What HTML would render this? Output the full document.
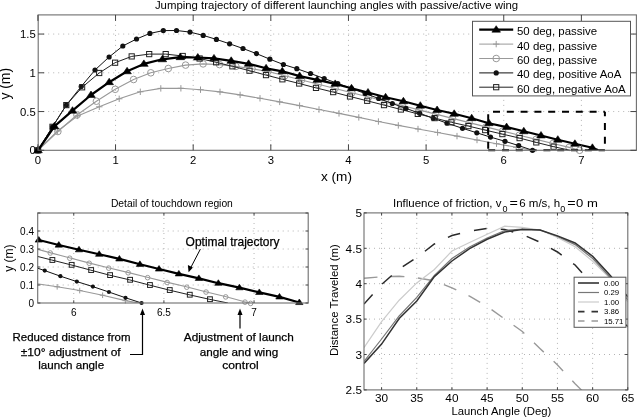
<!DOCTYPE html>
<html><head><meta charset="utf-8"><style>
html,body{margin:0;padding:0;background:#fff;}
svg{display:block;font-family:'Liberation Sans', sans-serif;will-change:transform;}
text{fill:#000;}
</style></head><body>
<svg width="637" height="417" viewBox="0 0 637 417">
<rect width="637" height="417" fill="#fff"/>
<line x1="115.54" y1="14.9" x2="115.54" y2="150.3" stroke="#b4b4b4" stroke-width="1" stroke-dasharray="1 4"/>
<line x1="193.18" y1="14.9" x2="193.18" y2="150.3" stroke="#b4b4b4" stroke-width="1" stroke-dasharray="1 4"/>
<line x1="270.82" y1="14.9" x2="270.82" y2="150.3" stroke="#b4b4b4" stroke-width="1" stroke-dasharray="1 4"/>
<line x1="348.46" y1="14.9" x2="348.46" y2="150.3" stroke="#b4b4b4" stroke-width="1" stroke-dasharray="1 4"/>
<line x1="426.1" y1="14.9" x2="426.1" y2="150.3" stroke="#b4b4b4" stroke-width="1" stroke-dasharray="1 4"/>
<line x1="503.74" y1="14.9" x2="503.74" y2="150.3" stroke="#b4b4b4" stroke-width="1" stroke-dasharray="1 4"/>
<line x1="581.38" y1="14.9" x2="581.38" y2="150.3" stroke="#b4b4b4" stroke-width="1" stroke-dasharray="1 4"/>
<line x1="38.2" y1="111.55" x2="636.4" y2="111.55" stroke="#b4b4b4" stroke-width="1" stroke-dasharray="1 4"/>
<line x1="38.2" y1="72.8" x2="636.4" y2="72.8" stroke="#b4b4b4" stroke-width="1" stroke-dasharray="1 4"/>
<line x1="38.2" y1="34.05" x2="636.4" y2="34.05" stroke="#b4b4b4" stroke-width="1" stroke-dasharray="1 4"/>
<clipPath id="ctop"><rect x="38.2" y="14.9" width="598.2" height="135.4"/></clipPath>
<polyline clip-path="url(#ctop)" points="38,150.3 57.6,131 77.7,115.9 99.3,106.8 119.2,98.8 140.3,91.8 160.8,88.4 180.9,88.3 200.5,89.7 220,91.9 240.1,94.9 260,98.3 279.7,101.9 299.6,105.6 319,109.5 339,113.4 358.8,117.4 378.4,121.5 398.3,125.4 418,129 437.6,132.5 457,136.1 477,140 496.5,143.7 516.2,147.3 531.8,150.3" fill="none" stroke="#999" stroke-width="1.1" stroke-linejoin="round"/>
<path d="M34.8,150.3h6.4M38,147.1v6.4" stroke="#999" stroke-width="1"/><path d="M54.4,131h6.4M57.6,127.8v6.4" stroke="#999" stroke-width="1"/><path d="M74.5,115.9h6.4M77.7,112.7v6.4" stroke="#999" stroke-width="1"/><path d="M96.1,106.8h6.4M99.3,103.6v6.4" stroke="#999" stroke-width="1"/><path d="M116,98.8h6.4M119.2,95.6v6.4" stroke="#999" stroke-width="1"/><path d="M137.1,91.8h6.4M140.3,88.6v6.4" stroke="#999" stroke-width="1"/><path d="M157.6,88.4h6.4M160.8,85.2v6.4" stroke="#999" stroke-width="1"/><path d="M177.7,88.3h6.4M180.9,85.1v6.4" stroke="#999" stroke-width="1"/><path d="M197.3,89.7h6.4M200.5,86.5v6.4" stroke="#999" stroke-width="1"/><path d="M216.8,91.9h6.4M220,88.7v6.4" stroke="#999" stroke-width="1"/><path d="M236.9,94.9h6.4M240.1,91.7v6.4" stroke="#999" stroke-width="1"/><path d="M256.8,98.3h6.4M260,95.1v6.4" stroke="#999" stroke-width="1"/><path d="M276.5,101.9h6.4M279.7,98.7v6.4" stroke="#999" stroke-width="1"/><path d="M296.4,105.6h6.4M299.6,102.4v6.4" stroke="#999" stroke-width="1"/><path d="M315.8,109.5h6.4M319,106.3v6.4" stroke="#999" stroke-width="1"/><path d="M335.8,113.4h6.4M339,110.2v6.4" stroke="#999" stroke-width="1"/><path d="M355.6,117.4h6.4M358.8,114.2v6.4" stroke="#999" stroke-width="1"/><path d="M375.2,121.5h6.4M378.4,118.3v6.4" stroke="#999" stroke-width="1"/><path d="M395.1,125.4h6.4M398.3,122.2v6.4" stroke="#999" stroke-width="1"/><path d="M414.8,129h6.4M418,125.8v6.4" stroke="#999" stroke-width="1"/><path d="M434.4,132.5h6.4M437.6,129.3v6.4" stroke="#999" stroke-width="1"/><path d="M453.8,136.1h6.4M457,132.9v6.4" stroke="#999" stroke-width="1"/><path d="M473.8,140h6.4M477,136.8v6.4" stroke="#999" stroke-width="1"/><path d="M493.3,143.7h6.4M496.5,140.5v6.4" stroke="#999" stroke-width="1"/><path d="M513,147.3h6.4M516.2,144.1v6.4" stroke="#999" stroke-width="1"/>
<polyline clip-path="url(#ctop)" points="38,150.3 57.9,131.5 76.9,115 96.4,101.2 115.2,89.3 133.6,79.5 150.8,72.8 168.3,68.5 185.6,65.1 203.1,63.9 219.5,64.6 235.9,66.4 252,68.8 268,71.5 284.77,75.76 301.54,80.02 318.31,84.28 335.08,88.55 351.85,92.81 368.62,97.07 385.38,101.33 402.15,105.59 418.92,109.85 435.69,114.12 452.46,118.38 469.23,122.64 486,126.9 502.6,131.1 519.3,135.2 536.1,139.4 552.9,143.5 569.1,147.4 579.6,150.3" fill="none" stroke="#999" stroke-width="1.1" stroke-linejoin="round"/>
<circle cx="38" cy="150.3" r="3.3" fill="none" stroke="#999" stroke-width="1"/><circle cx="57.9" cy="131.5" r="3.3" fill="none" stroke="#999" stroke-width="1"/><circle cx="76.9" cy="115" r="3.3" fill="none" stroke="#999" stroke-width="1"/><circle cx="96.4" cy="101.2" r="3.3" fill="none" stroke="#999" stroke-width="1"/><circle cx="115.2" cy="89.3" r="3.3" fill="none" stroke="#999" stroke-width="1"/><circle cx="133.6" cy="79.5" r="3.3" fill="none" stroke="#999" stroke-width="1"/><circle cx="150.8" cy="72.8" r="3.3" fill="none" stroke="#999" stroke-width="1"/><circle cx="168.3" cy="68.5" r="3.3" fill="none" stroke="#999" stroke-width="1"/><circle cx="185.6" cy="65.1" r="3.3" fill="none" stroke="#999" stroke-width="1"/><circle cx="203.1" cy="63.9" r="3.3" fill="none" stroke="#999" stroke-width="1"/><circle cx="219.5" cy="64.6" r="3.3" fill="none" stroke="#999" stroke-width="1"/><circle cx="235.9" cy="66.4" r="3.3" fill="none" stroke="#999" stroke-width="1"/><circle cx="252" cy="68.8" r="3.3" fill="none" stroke="#999" stroke-width="1"/><circle cx="268" cy="71.5" r="3.3" fill="none" stroke="#999" stroke-width="1"/><circle cx="284.77" cy="75.76" r="3.3" fill="none" stroke="#999" stroke-width="1"/><circle cx="301.54" cy="80.02" r="3.3" fill="none" stroke="#999" stroke-width="1"/><circle cx="318.31" cy="84.28" r="3.3" fill="none" stroke="#999" stroke-width="1"/><circle cx="335.08" cy="88.55" r="3.3" fill="none" stroke="#999" stroke-width="1"/><circle cx="351.85" cy="92.81" r="3.3" fill="none" stroke="#999" stroke-width="1"/><circle cx="368.62" cy="97.07" r="3.3" fill="none" stroke="#999" stroke-width="1"/><circle cx="385.38" cy="101.33" r="3.3" fill="none" stroke="#999" stroke-width="1"/><circle cx="402.15" cy="105.59" r="3.3" fill="none" stroke="#999" stroke-width="1"/><circle cx="418.92" cy="109.85" r="3.3" fill="none" stroke="#999" stroke-width="1"/><circle cx="435.69" cy="114.12" r="3.3" fill="none" stroke="#999" stroke-width="1"/><circle cx="452.46" cy="118.38" r="3.3" fill="none" stroke="#999" stroke-width="1"/><circle cx="469.23" cy="122.64" r="3.3" fill="none" stroke="#999" stroke-width="1"/><circle cx="486" cy="126.9" r="3.3" fill="none" stroke="#999" stroke-width="1"/><circle cx="502.6" cy="131.1" r="3.3" fill="none" stroke="#999" stroke-width="1"/><circle cx="519.3" cy="135.2" r="3.3" fill="none" stroke="#999" stroke-width="1"/><circle cx="536.1" cy="139.4" r="3.3" fill="none" stroke="#999" stroke-width="1"/><circle cx="552.9" cy="143.5" r="3.3" fill="none" stroke="#999" stroke-width="1"/><circle cx="569.1" cy="147.4" r="3.3" fill="none" stroke="#999" stroke-width="1"/><circle cx="579.6" cy="150.3" r="3.3" fill="none" stroke="#999" stroke-width="1"/>
<polyline clip-path="url(#ctop)" points="38,150.3 52.5,126.8 66.3,105.1 81.2,86.5 95,70 109.1,57 122.8,46 136.5,39 149.9,33.4 163.3,30.6 176.5,30.5 190,32.1 203.2,35.4 216.4,39.4 229.6,43.8 243,48.5 256.4,53.6 269.9,59.2 283.4,64.5 296.8,68.7 310.5,73.5 324.2,78.5 337.8,83.5 351.5,88.5 365.1,93.5 378.7,98.5 392.3,103.5 406,108.4 419.7,113.3 433.3,118.3 447,123.2 462.5,128.3 476.8,132.8 490.5,137.1 505,141.3 518.7,145.6 532.5,150.3" fill="none" stroke="#111" stroke-width="1.0" stroke-linejoin="round"/>
<circle cx="38" cy="150.3" r="2.6" fill="#111"/><circle cx="52.5" cy="126.8" r="2.6" fill="#111"/><circle cx="66.3" cy="105.1" r="2.6" fill="#111"/><circle cx="81.2" cy="86.5" r="2.6" fill="#111"/><circle cx="95" cy="70" r="2.6" fill="#111"/><circle cx="109.1" cy="57" r="2.6" fill="#111"/><circle cx="122.8" cy="46" r="2.6" fill="#111"/><circle cx="136.5" cy="39" r="2.6" fill="#111"/><circle cx="149.9" cy="33.4" r="2.6" fill="#111"/><circle cx="163.3" cy="30.6" r="2.6" fill="#111"/><circle cx="176.5" cy="30.5" r="2.6" fill="#111"/><circle cx="190" cy="32.1" r="2.6" fill="#111"/><circle cx="203.2" cy="35.4" r="2.6" fill="#111"/><circle cx="216.4" cy="39.4" r="2.6" fill="#111"/><circle cx="229.6" cy="43.8" r="2.6" fill="#111"/><circle cx="243" cy="48.5" r="2.6" fill="#111"/><circle cx="256.4" cy="53.6" r="2.6" fill="#111"/><circle cx="269.9" cy="59.2" r="2.6" fill="#111"/><circle cx="283.4" cy="64.5" r="2.6" fill="#111"/><circle cx="296.8" cy="68.7" r="2.6" fill="#111"/><circle cx="310.5" cy="73.5" r="2.6" fill="#111"/><circle cx="324.2" cy="78.5" r="2.6" fill="#111"/><circle cx="337.8" cy="83.5" r="2.6" fill="#111"/><circle cx="351.5" cy="88.5" r="2.6" fill="#111"/><circle cx="365.1" cy="93.5" r="2.6" fill="#111"/><circle cx="378.7" cy="98.5" r="2.6" fill="#111"/><circle cx="392.3" cy="103.5" r="2.6" fill="#111"/><circle cx="406" cy="108.4" r="2.6" fill="#111"/><circle cx="419.7" cy="113.3" r="2.6" fill="#111"/><circle cx="433.3" cy="118.3" r="2.6" fill="#111"/><circle cx="447" cy="123.2" r="2.6" fill="#111"/><circle cx="462.5" cy="128.3" r="2.6" fill="#111"/><circle cx="476.8" cy="132.8" r="2.6" fill="#111"/><circle cx="490.5" cy="137.1" r="2.6" fill="#111"/><circle cx="505" cy="141.3" r="2.6" fill="#111"/><circle cx="518.7" cy="145.6" r="2.6" fill="#111"/><circle cx="532.5" cy="150.3" r="2.6" fill="#111"/>
<polyline clip-path="url(#ctop)" points="38,150.3 52.5,126.8 66.3,105.1 82.1,87.3 99.2,73 115.1,62.7 131.7,56.4 149.2,54.1 165.7,54.1 182.7,56 199.6,58.5 216.1,62.3 232.4,66.3 249.5,70.7 266,75.1 282.4,79.3 299.2,83.5 316,87.9 333.2,92.1 350,96.5 367.2,100.8 384,105.1 400.9,109.5 417.8,113.9 434.6,118.1 451.4,122.3 468.4,126.1 485.2,130.1 502.4,134.1 519.6,138.1 536.3,142.4 553.6,146.7 570.1,150.3" fill="none" stroke="#222" stroke-width="1.0" stroke-linejoin="round"/>
<rect x="35.4" y="147.7" width="5.2" height="5.2" fill="none" stroke="#222" stroke-width="1"/><rect x="49.9" y="124.2" width="5.2" height="5.2" fill="none" stroke="#222" stroke-width="1"/><rect x="63.7" y="102.5" width="5.2" height="5.2" fill="none" stroke="#222" stroke-width="1"/><rect x="79.5" y="84.7" width="5.2" height="5.2" fill="none" stroke="#222" stroke-width="1"/><rect x="96.6" y="70.4" width="5.2" height="5.2" fill="none" stroke="#222" stroke-width="1"/><rect x="112.5" y="60.1" width="5.2" height="5.2" fill="none" stroke="#222" stroke-width="1"/><rect x="129.1" y="53.8" width="5.2" height="5.2" fill="none" stroke="#222" stroke-width="1"/><rect x="146.6" y="51.5" width="5.2" height="5.2" fill="none" stroke="#222" stroke-width="1"/><rect x="163.1" y="51.5" width="5.2" height="5.2" fill="none" stroke="#222" stroke-width="1"/><rect x="180.1" y="53.4" width="5.2" height="5.2" fill="none" stroke="#222" stroke-width="1"/><rect x="197" y="55.9" width="5.2" height="5.2" fill="none" stroke="#222" stroke-width="1"/><rect x="213.5" y="59.7" width="5.2" height="5.2" fill="none" stroke="#222" stroke-width="1"/><rect x="229.8" y="63.7" width="5.2" height="5.2" fill="none" stroke="#222" stroke-width="1"/><rect x="246.9" y="68.1" width="5.2" height="5.2" fill="none" stroke="#222" stroke-width="1"/><rect x="263.4" y="72.5" width="5.2" height="5.2" fill="none" stroke="#222" stroke-width="1"/><rect x="279.8" y="76.7" width="5.2" height="5.2" fill="none" stroke="#222" stroke-width="1"/><rect x="296.6" y="80.9" width="5.2" height="5.2" fill="none" stroke="#222" stroke-width="1"/><rect x="313.4" y="85.3" width="5.2" height="5.2" fill="none" stroke="#222" stroke-width="1"/><rect x="330.6" y="89.5" width="5.2" height="5.2" fill="none" stroke="#222" stroke-width="1"/><rect x="347.4" y="93.9" width="5.2" height="5.2" fill="none" stroke="#222" stroke-width="1"/><rect x="364.6" y="98.2" width="5.2" height="5.2" fill="none" stroke="#222" stroke-width="1"/><rect x="381.4" y="102.5" width="5.2" height="5.2" fill="none" stroke="#222" stroke-width="1"/><rect x="398.3" y="106.9" width="5.2" height="5.2" fill="none" stroke="#222" stroke-width="1"/><rect x="415.2" y="111.3" width="5.2" height="5.2" fill="none" stroke="#222" stroke-width="1"/><rect x="432" y="115.5" width="5.2" height="5.2" fill="none" stroke="#222" stroke-width="1"/><rect x="448.8" y="119.7" width="5.2" height="5.2" fill="none" stroke="#222" stroke-width="1"/><rect x="465.8" y="123.5" width="5.2" height="5.2" fill="none" stroke="#222" stroke-width="1"/><rect x="482.6" y="127.5" width="5.2" height="5.2" fill="none" stroke="#222" stroke-width="1"/><rect x="499.8" y="131.5" width="5.2" height="5.2" fill="none" stroke="#222" stroke-width="1"/><rect x="517" y="135.5" width="5.2" height="5.2" fill="none" stroke="#222" stroke-width="1"/><rect x="533.7" y="139.8" width="5.2" height="5.2" fill="none" stroke="#222" stroke-width="1"/><rect x="551" y="144.1" width="5.2" height="5.2" fill="none" stroke="#222" stroke-width="1"/>
<polyline clip-path="url(#ctop)" points="38,150.3 54.4,126.3 72.5,110.7 91,95 109.2,82.2 127.1,71.3 143.9,63.9 162.4,59.3 180.3,57.2 197.8,57.5 214,58.4 231.2,60.8 248.6,63.8 266.1,68.3 282.3,71.3 299.7,76.1 317.2,79.9 335.2,83.9 351.5,88.3 368,92.5 385.6,97.3 403.4,101.3 420.3,105.7 437.1,110 454.2,113.8 471.7,118.2 488.9,123.2 506.6,127.1 523.8,131.3 541,135.5 557.8,139.7 574.9,143.8 592.4,147.8 598.5,150.3" fill="none" stroke="#000" stroke-width="2.2" stroke-linejoin="round"/>
<path d="M38,146.3L42.3,152.75L33.7,152.75Z" fill="#000" stroke="#000" stroke-width="0.6"/><path d="M54.4,122.3L58.7,128.75L50.1,128.75Z" fill="#000" stroke="#000" stroke-width="0.6"/><path d="M72.5,106.7L76.8,113.15L68.2,113.15Z" fill="#000" stroke="#000" stroke-width="0.6"/><path d="M91,91L95.3,97.45L86.7,97.45Z" fill="#000" stroke="#000" stroke-width="0.6"/><path d="M109.2,78.2L113.5,84.65L104.9,84.65Z" fill="#000" stroke="#000" stroke-width="0.6"/><path d="M127.1,67.3L131.4,73.75L122.8,73.75Z" fill="#000" stroke="#000" stroke-width="0.6"/><path d="M143.9,59.9L148.2,66.35L139.6,66.35Z" fill="#000" stroke="#000" stroke-width="0.6"/><path d="M162.4,55.3L166.7,61.75L158.1,61.75Z" fill="#000" stroke="#000" stroke-width="0.6"/><path d="M180.3,53.2L184.6,59.65L176,59.65Z" fill="#000" stroke="#000" stroke-width="0.6"/><path d="M197.8,53.5L202.1,59.95L193.5,59.95Z" fill="#000" stroke="#000" stroke-width="0.6"/><path d="M214,54.4L218.3,60.85L209.7,60.85Z" fill="#000" stroke="#000" stroke-width="0.6"/><path d="M231.2,56.8L235.5,63.25L226.9,63.25Z" fill="#000" stroke="#000" stroke-width="0.6"/><path d="M248.6,59.8L252.9,66.25L244.3,66.25Z" fill="#000" stroke="#000" stroke-width="0.6"/><path d="M266.1,64.3L270.4,70.75L261.8,70.75Z" fill="#000" stroke="#000" stroke-width="0.6"/><path d="M282.3,67.3L286.6,73.75L278,73.75Z" fill="#000" stroke="#000" stroke-width="0.6"/><path d="M299.7,72.1L304,78.55L295.4,78.55Z" fill="#000" stroke="#000" stroke-width="0.6"/><path d="M317.2,75.9L321.5,82.35L312.9,82.35Z" fill="#000" stroke="#000" stroke-width="0.6"/><path d="M335.2,79.9L339.5,86.35L330.9,86.35Z" fill="#000" stroke="#000" stroke-width="0.6"/><path d="M351.5,84.3L355.8,90.75L347.2,90.75Z" fill="#000" stroke="#000" stroke-width="0.6"/><path d="M368,88.5L372.3,94.95L363.7,94.95Z" fill="#000" stroke="#000" stroke-width="0.6"/><path d="M385.6,93.3L389.9,99.75L381.3,99.75Z" fill="#000" stroke="#000" stroke-width="0.6"/><path d="M403.4,97.3L407.7,103.75L399.1,103.75Z" fill="#000" stroke="#000" stroke-width="0.6"/><path d="M420.3,101.7L424.6,108.15L416,108.15Z" fill="#000" stroke="#000" stroke-width="0.6"/><path d="M437.1,106L441.4,112.45L432.8,112.45Z" fill="#000" stroke="#000" stroke-width="0.6"/><path d="M454.2,109.8L458.5,116.25L449.9,116.25Z" fill="#000" stroke="#000" stroke-width="0.6"/><path d="M471.7,114.2L476,120.65L467.4,120.65Z" fill="#000" stroke="#000" stroke-width="0.6"/><path d="M488.9,119.2L493.2,125.65L484.6,125.65Z" fill="#000" stroke="#000" stroke-width="0.6"/><path d="M506.6,123.1L510.9,129.55L502.3,129.55Z" fill="#000" stroke="#000" stroke-width="0.6"/><path d="M523.8,127.3L528.1,133.75L519.5,133.75Z" fill="#000" stroke="#000" stroke-width="0.6"/><path d="M541,131.5L545.3,137.95L536.7,137.95Z" fill="#000" stroke="#000" stroke-width="0.6"/><path d="M557.8,135.7L562.1,142.15L553.5,142.15Z" fill="#000" stroke="#000" stroke-width="0.6"/><path d="M574.9,139.8L579.2,146.25L570.6,146.25Z" fill="#000" stroke="#000" stroke-width="0.6"/><path d="M592.4,143.8L596.7,150.25L588.1,150.25Z" fill="#000" stroke="#000" stroke-width="0.6"/>
<line x1="488.2" y1="111.7" x2="604.9" y2="111.7" stroke="#000" stroke-width="2" stroke-dasharray="7 6.8" stroke-dashoffset="9"/>
<line x1="604.9" y1="111.7" x2="604.9" y2="150.3" stroke="#000" stroke-width="2" stroke-dasharray="7 6.8" stroke-dashoffset="2.5"/>
<line x1="488.2" y1="150.3" x2="604.9" y2="150.3" stroke="#000" stroke-width="2" stroke-dasharray="7 6.8" stroke-dashoffset="0"/>
<line x1="488.2" y1="111.7" x2="488.2" y2="150.3" stroke="#000" stroke-width="2" stroke-dasharray="7 6.8" stroke-dashoffset="11.35"/>
<rect x="38.2" y="14.9" width="598.2" height="135.4" stroke="#6e6e6e" stroke-width="1.1" fill="none"/>
<path d="M37.9,150.3v-6M37.9,14.9v6M115.54,150.3v-6M115.54,14.9v6M193.18,150.3v-6M193.18,14.9v6M270.82,150.3v-6M270.82,14.9v6M348.46,150.3v-6M348.46,14.9v6M426.1,150.3v-6M426.1,14.9v6M503.74,150.3v-6M503.74,14.9v6M581.38,150.3v-6M581.38,14.9v6M38.2,150.3h6M636.4,150.3h-6M38.2,111.55h6M636.4,111.55h-6M38.2,72.8h6M636.4,72.8h-6M38.2,34.05h6M636.4,34.05h-6" stroke="#444" stroke-width="1" fill="none"/>
<text x="37.9" y="164" font-size="11.3" text-anchor="middle" >0</text>
<text x="115.54" y="164" font-size="11.3" text-anchor="middle" >1</text>
<text x="193.18" y="164" font-size="11.3" text-anchor="middle" >2</text>
<text x="270.82" y="164" font-size="11.3" text-anchor="middle" >3</text>
<text x="348.46" y="164" font-size="11.3" text-anchor="middle" >4</text>
<text x="426.1" y="164" font-size="11.3" text-anchor="middle" >5</text>
<text x="503.74" y="164" font-size="11.3" text-anchor="middle" >6</text>
<text x="581.38" y="164" font-size="11.3" text-anchor="middle" >7</text>
<text x="35.8" y="154.3" font-size="11.3" text-anchor="end" >0</text>
<text x="35.8" y="115.55" font-size="11.3" text-anchor="end" >0.5</text>
<text x="35.8" y="76.8" font-size="11.3" text-anchor="end" >1</text>
<text x="35.8" y="38.05" font-size="11.3" text-anchor="end" >1.5</text>
<text x="336.5" y="180.9" font-size="13.6" text-anchor="middle" >x (m)</text>
<text transform="translate(10.4,83.8) rotate(-90)" font-size="13.9" text-anchor="middle">y (m)</text>
<text x="336.5" y="8.6" font-size="11.4" text-anchor="middle" >Jumping trajectory of different launching angles with passive/active wing</text>
<rect x="472.5" y="21.3" width="158" height="74.6" fill="#fff" stroke="#555" stroke-width="1"/>
<line x1="479.2" y1="29.7" x2="513.2" y2="29.7" stroke="#000" stroke-width="2.2"/>
<path d="M496.2,25.7L500.5,32.15L491.9,32.15Z" fill="#000" stroke="#000" stroke-width="0.6"/>
<text x="517" y="35.1" font-size="11.45" text-anchor="start" >50 deg, passive</text>
<line x1="479.2" y1="44.1" x2="513.2" y2="44.1" stroke="#999" stroke-width="1"/>
<path d="M493,44.1h6.4M496.2,40.9v6.4" stroke="#999" stroke-width="1"/>
<text x="517" y="49.5" font-size="11.45" text-anchor="start" >40 deg, passive</text>
<line x1="479.2" y1="58.5" x2="513.2" y2="58.5" stroke="#999" stroke-width="1"/>
<circle cx="496.2" cy="58.5" r="3.3" fill="none" stroke="#999" stroke-width="1"/>
<text x="517" y="63.9" font-size="11.45" text-anchor="start" >60 deg, passive</text>
<line x1="479.2" y1="72.9" x2="513.2" y2="72.9" stroke="#111" stroke-width="1"/>
<circle cx="496.2" cy="72.9" r="2.6" fill="#111"/>
<text x="517" y="78.3" font-size="11.45" text-anchor="start" >40 deg, positive AoA</text>
<line x1="479.2" y1="87.2" x2="513.2" y2="87.2" stroke="#222" stroke-width="1"/>
<rect x="493.6" y="84.6" width="5.2" height="5.2" fill="none" stroke="#222" stroke-width="1"/>
<text x="517" y="92.6" font-size="11.45" text-anchor="start" >60 deg, negative AoA</text>
<line x1="73.76" y1="213" x2="73.76" y2="303" stroke="#b4b4b4" stroke-width="1" stroke-dasharray="1 4"/>
<line x1="163.91" y1="213" x2="163.91" y2="303" stroke="#b4b4b4" stroke-width="1" stroke-dasharray="1 4"/>
<line x1="254.06" y1="213" x2="254.06" y2="303" stroke="#b4b4b4" stroke-width="1" stroke-dasharray="1 4"/>
<line x1="37.7" y1="285" x2="308.2" y2="285" stroke="#b4b4b4" stroke-width="1" stroke-dasharray="1 4"/>
<line x1="37.7" y1="267" x2="308.2" y2="267" stroke="#b4b4b4" stroke-width="1" stroke-dasharray="1 4"/>
<line x1="37.7" y1="249" x2="308.2" y2="249" stroke="#b4b4b4" stroke-width="1" stroke-dasharray="1 4"/>
<line x1="37.7" y1="231" x2="308.2" y2="231" stroke="#b4b4b4" stroke-width="1" stroke-dasharray="1 4"/>
<clipPath id="cdet"><rect x="37.7" y="213" width="270.5" height="90"/></clipPath>
<polyline clip-path="url(#cdet)" points="10.66,279.6 34.45,283.38 57.17,286.8 79.71,290.58 102.61,295.26 125.33,300.66 139.03,303" fill="none" stroke="#999" stroke-width="1.1" stroke-linejoin="round"/>
<path d="M54.37,286.8h5.6M57.17,284v5.6" stroke="#999" stroke-width="1"/><path d="M76.91,290.58h5.6M79.71,287.78v5.6" stroke="#999" stroke-width="1"/><path d="M99.81,295.26h5.6M102.61,292.46v5.6" stroke="#999" stroke-width="1"/><path d="M122.53,300.66h5.6M125.33,297.86v5.6" stroke="#999" stroke-width="1"/>
<polyline clip-path="url(#cdet)" points="30.31,247.38 49.78,252.6 69.25,257.82 88.72,262.86 108.2,267.72 127.67,272.4 147.14,277.26 166.61,282.12 186.27,286.8 205.56,291.66 225.21,296.52 244.5,301.74 250.09,303" fill="none" stroke="#999" stroke-width="1.1" stroke-linejoin="round"/>
<circle cx="50.28" cy="253" r="2.3" fill="none" stroke="#999" stroke-width="1"/><circle cx="69.75" cy="258.22" r="2.3" fill="none" stroke="#999" stroke-width="1"/><circle cx="89.22" cy="263.26" r="2.3" fill="none" stroke="#999" stroke-width="1"/><circle cx="108.7" cy="268.12" r="2.3" fill="none" stroke="#999" stroke-width="1"/><circle cx="128.17" cy="272.8" r="2.3" fill="none" stroke="#999" stroke-width="1"/><circle cx="147.64" cy="277.66" r="2.3" fill="none" stroke="#999" stroke-width="1"/><circle cx="167.11" cy="282.52" r="2.3" fill="none" stroke="#999" stroke-width="1"/><circle cx="186.77" cy="287.2" r="2.3" fill="none" stroke="#999" stroke-width="1"/><circle cx="206.06" cy="292.06" r="2.3" fill="none" stroke="#999" stroke-width="1"/><circle cx="225.71" cy="296.92" r="2.3" fill="none" stroke="#999" stroke-width="1"/><circle cx="245" cy="302.14" r="2.3" fill="none" stroke="#999" stroke-width="1"/><circle cx="250.59" cy="303.4" r="2.3" fill="none" stroke="#999" stroke-width="1"/>
<polyline clip-path="url(#cdet)" points="28.69,265.2 44.73,270.6 60.42,276.18 76.83,281.58 92.87,286.62 108.92,292.02 125.51,297.78 141.55,303" fill="none" stroke="#111" stroke-width="1.0" stroke-linejoin="round"/>
<circle cx="44.73" cy="270.6" r="2.1" fill="#111"/><circle cx="60.42" cy="276.18" r="2.1" fill="#111"/><circle cx="76.83" cy="281.58" r="2.1" fill="#111"/><circle cx="92.87" cy="286.62" r="2.1" fill="#111"/><circle cx="108.92" cy="292.02" r="2.1" fill="#111"/><circle cx="125.51" cy="297.78" r="2.1" fill="#111"/><circle cx="141.55" cy="303" r="2.1" fill="#111"/>
<polyline clip-path="url(#cdet)" points="32.29,255.12 51.58,259.98 70.88,264.84 90.35,270.06 109.28,275.1 129.29,279.78 149.13,285 168.96,290.04 188.97,294.72 209.17,299.22 227.92,303" fill="none" stroke="#222" stroke-width="1.0" stroke-linejoin="round"/>
<rect x="49.98" y="257.58" width="4.8" height="4.8" fill="none" stroke="#222" stroke-width="1"/><rect x="69.28" y="262.44" width="4.8" height="4.8" fill="none" stroke="#222" stroke-width="1"/><rect x="88.75" y="267.66" width="4.8" height="4.8" fill="none" stroke="#222" stroke-width="1"/><rect x="107.68" y="272.7" width="4.8" height="4.8" fill="none" stroke="#222" stroke-width="1"/><rect x="127.69" y="277.38" width="4.8" height="4.8" fill="none" stroke="#222" stroke-width="1"/><rect x="147.53" y="282.6" width="4.8" height="4.8" fill="none" stroke="#222" stroke-width="1"/><rect x="167.36" y="287.64" width="4.8" height="4.8" fill="none" stroke="#222" stroke-width="1"/><rect x="187.37" y="292.32" width="4.8" height="4.8" fill="none" stroke="#222" stroke-width="1"/><rect x="207.57" y="296.82" width="4.8" height="4.8" fill="none" stroke="#222" stroke-width="1"/>
<polyline clip-path="url(#cdet)" points="18.77,235.32 38.78,240 58.8,245.04 78.99,249.72 99.18,254.22 119.38,258.9 139.93,264.3 159.04,268.98 178.87,273.84 198.89,278.34 218.36,283.2 239.46,287.7 259.29,292.38 279.48,296.88 299.32,302.46" fill="none" stroke="#000" stroke-width="2.2" stroke-linejoin="round"/>
<path d="M38.78,236.56L42.48,242.11L35.08,242.11Z" fill="#000" stroke="#000" stroke-width="0.6"/><path d="M58.8,241.6L62.5,247.15L55.1,247.15Z" fill="#000" stroke="#000" stroke-width="0.6"/><path d="M78.99,246.28L82.69,251.83L75.29,251.83Z" fill="#000" stroke="#000" stroke-width="0.6"/><path d="M99.18,250.78L102.88,256.33L95.48,256.33Z" fill="#000" stroke="#000" stroke-width="0.6"/><path d="M119.38,255.46L123.08,261.01L115.68,261.01Z" fill="#000" stroke="#000" stroke-width="0.6"/><path d="M139.93,260.86L143.63,266.41L136.23,266.41Z" fill="#000" stroke="#000" stroke-width="0.6"/><path d="M159.04,265.54L162.74,271.09L155.34,271.09Z" fill="#000" stroke="#000" stroke-width="0.6"/><path d="M178.87,270.4L182.57,275.95L175.17,275.95Z" fill="#000" stroke="#000" stroke-width="0.6"/><path d="M198.89,274.9L202.59,280.45L195.19,280.45Z" fill="#000" stroke="#000" stroke-width="0.6"/><path d="M218.36,279.76L222.06,285.31L214.66,285.31Z" fill="#000" stroke="#000" stroke-width="0.6"/><path d="M239.46,284.26L243.16,289.81L235.76,289.81Z" fill="#000" stroke="#000" stroke-width="0.6"/><path d="M259.29,288.94L262.99,294.49L255.59,294.49Z" fill="#000" stroke="#000" stroke-width="0.6"/><path d="M279.48,293.44L283.18,298.99L275.78,298.99Z" fill="#000" stroke="#000" stroke-width="0.6"/><path d="M299.32,299.02L303.02,304.57L295.62,304.57Z" fill="#000" stroke="#000" stroke-width="0.6"/>
<rect x="37.7" y="213" width="270.5" height="90" stroke="#6e6e6e" stroke-width="1.1" fill="none"/>
<path d="M73.76,303v-2.7M73.76,213v2.7M163.91,303v-2.7M163.91,213v2.7M254.06,303v-2.7M254.06,213v2.7M37.7,303h2.7M308.2,303h-2.7M37.7,285h2.7M308.2,285h-2.7M37.7,267h2.7M308.2,267h-2.7M37.7,249h2.7M308.2,249h-2.7M37.7,231h2.7M308.2,231h-2.7M37.7,213h2.7M308.2,213h-2.7" stroke="#444" stroke-width="1" fill="none"/>
<text x="73.76" y="316.2" font-size="10" text-anchor="middle" >6</text>
<text x="163.91" y="316.2" font-size="10" text-anchor="middle" >6.5</text>
<text x="254.06" y="316.2" font-size="10" text-anchor="middle" >7</text>
<text x="34" y="306.6" font-size="10" text-anchor="end" >0</text>
<text x="34" y="288.6" font-size="10" text-anchor="end" >0.1</text>
<text x="34" y="270.6" font-size="10" text-anchor="end" >0.2</text>
<text x="34" y="252.6" font-size="10" text-anchor="end" >0.3</text>
<text x="34" y="234.6" font-size="10" text-anchor="end" >0.4</text>
<text transform="translate(13.2,258.1) rotate(-90)" font-size="12" text-anchor="middle">y (m)</text>
<text x="171.9" y="207" font-size="10.3" text-anchor="middle" >Detail of touchdown region</text>
<text x="185.6" y="246" font-size="11.9" text-anchor="start" stroke="#000" stroke-width="0.25" textLength="93.8" lengthAdjust="spacingAndGlyphs">Optimal trajectory</text>
<path d="M200.4,249.1L189.5,270" stroke="#000" stroke-width="1" fill="none"/>
<path d="M188.6,272.2L187.9,264.9L192.9,267.5Z" fill="#000"/>
<text x="12.5" y="341" font-size="11.6" text-anchor="start" stroke="#000" stroke-width="0.25" textLength="118" lengthAdjust="spacingAndGlyphs">Reduced distance from</text>
<text x="20.8" y="355.8" font-size="11.6" text-anchor="start" stroke="#000" stroke-width="0.25" textLength="99.9" lengthAdjust="spacingAndGlyphs">±10° adjustment of</text>
<text x="38.3" y="369.2" font-size="11.6" text-anchor="start" stroke="#000" stroke-width="0.25" textLength="65.8" lengthAdjust="spacingAndGlyphs">launch angle</text>
<text x="183.8" y="341" font-size="11.6" text-anchor="start" stroke="#000" stroke-width="0.25" textLength="110" lengthAdjust="spacingAndGlyphs">Adjustment of launch</text>
<text x="199.7" y="355.8" font-size="11.6" text-anchor="start" stroke="#000" stroke-width="0.25" textLength="78.5" lengthAdjust="spacingAndGlyphs">angle and wing</text>
<text x="222.3" y="369.2" font-size="11.6" text-anchor="start" stroke="#000" stroke-width="0.25" textLength="36.3" lengthAdjust="spacingAndGlyphs">control</text>
<path d="M130,354.5H142.5V313" stroke="#000" stroke-width="1.2" fill="none"/>
<path d="M142.5,308.5L140,315L145,315Z" fill="#000"/>
<path d="M240,328.5V313" stroke="#000" stroke-width="1.2" fill="none"/>
<path d="M240,308.5L237.5,315L242.5,315Z" fill="#000"/>
<line x1="381.59" y1="212.9" x2="381.59" y2="389.9" stroke="#b4b4b4" stroke-width="1" stroke-dasharray="1 4"/>
<line x1="416.76" y1="212.9" x2="416.76" y2="389.9" stroke="#b4b4b4" stroke-width="1" stroke-dasharray="1 4"/>
<line x1="451.93" y1="212.9" x2="451.93" y2="389.9" stroke="#b4b4b4" stroke-width="1" stroke-dasharray="1 4"/>
<line x1="487.11" y1="212.9" x2="487.11" y2="389.9" stroke="#b4b4b4" stroke-width="1" stroke-dasharray="1 4"/>
<line x1="522.28" y1="212.9" x2="522.28" y2="389.9" stroke="#b4b4b4" stroke-width="1" stroke-dasharray="1 4"/>
<line x1="557.45" y1="212.9" x2="557.45" y2="389.9" stroke="#b4b4b4" stroke-width="1" stroke-dasharray="1 4"/>
<line x1="592.63" y1="212.9" x2="592.63" y2="389.9" stroke="#b4b4b4" stroke-width="1" stroke-dasharray="1 4"/>
<line x1="364" y1="354.5" x2="627.8" y2="354.5" stroke="#b4b4b4" stroke-width="1" stroke-dasharray="1 4"/>
<line x1="364" y1="319.1" x2="627.8" y2="319.1" stroke="#b4b4b4" stroke-width="1" stroke-dasharray="1 4"/>
<line x1="364" y1="283.7" x2="627.8" y2="283.7" stroke="#b4b4b4" stroke-width="1" stroke-dasharray="1 4"/>
<line x1="364" y1="248.3" x2="627.8" y2="248.3" stroke="#b4b4b4" stroke-width="1" stroke-dasharray="1 4"/>
<clipPath id="cfr"><rect x="364" y="212.9" width="263.8" height="177"/></clipPath>
<g clip-path="url(#cfr)">
<polyline points="364,278.2 381.59,276.8 399.18,276.2 416.78,277.8 434.37,280.8 451.96,287.8 469.55,296.2 487.14,306.5 504.74,319 522.33,331.5 539.92,348.5 557.51,365 575.1,383.8 592.7,401 610.29,420 627.88,440" fill="none" stroke="#999" stroke-width="1.4" stroke-dasharray="13.5 13.5"/>
<polyline points="364,304 381.59,284.5 399.18,269 416.78,257.5 434.37,244 451.96,235.5 469.55,231.3 487.14,228.4 504.74,229.6 522.33,234.5 539.92,242.2 557.51,252 575.1,265 592.7,284.5 610.29,305.5 627.88,326.8" fill="none" stroke="#2a2a2a" stroke-width="1.5" stroke-dasharray="12.8 14.2"/>
<polyline points="364,347.6 381.59,321.7 399.18,300.2 416.78,282.9 434.37,269.5 451.96,251 469.55,242.5 487.14,234.2 504.74,226.2 522.33,227.4 539.92,230 557.51,237.5 575.1,246.8 592.7,261.2 610.29,278.5 627.88,302" fill="none" stroke="#ccc" stroke-width="1.2"/>
<polyline points="364,361.4 381.59,339 399.18,316 416.78,297.3 434.37,275.4 451.96,258.5 469.55,247 487.14,238 504.74,230.5 522.33,229 539.92,229.8 557.51,236.5 575.1,244.6 592.7,258.6 610.29,277.5 627.88,300" fill="none" stroke="#777" stroke-width="1.2"/>
<polyline points="364,363.4 381.59,344.1 399.18,318.5 416.78,301 434.37,276.6 451.96,261 469.55,248.6 487.14,239.3 504.74,232 522.33,229.6 539.92,230 557.51,235.9 575.1,243 592.7,256.4 610.29,275.5 627.88,297" fill="none" stroke="#333" stroke-width="1.5"/>
</g>
<rect x="364" y="212.9" width="263.8" height="177" stroke="#6e6e6e" stroke-width="1.1" fill="none"/>
<path d="M381.59,389.9v-2.7M381.59,212.9v2.7M416.76,389.9v-2.7M416.76,212.9v2.7M451.93,389.9v-2.7M451.93,212.9v2.7M487.11,389.9v-2.7M487.11,212.9v2.7M522.28,389.9v-2.7M522.28,212.9v2.7M557.45,389.9v-2.7M557.45,212.9v2.7M592.63,389.9v-2.7M592.63,212.9v2.7M627.8,389.9v-2.7M627.8,212.9v2.7M364,389.9h2.7M627.8,389.9h-2.7M364,354.5h2.7M627.8,354.5h-2.7M364,319.1h2.7M627.8,319.1h-2.7M364,283.7h2.7M627.8,283.7h-2.7M364,248.3h2.7M627.8,248.3h-2.7M364,212.9h2.7M627.8,212.9h-2.7" stroke="#444" stroke-width="1" fill="none"/>
<text x="381.59" y="401.6" font-size="11.8" text-anchor="middle" >30</text>
<text x="416.76" y="401.6" font-size="11.8" text-anchor="middle" >35</text>
<text x="451.93" y="401.6" font-size="11.8" text-anchor="middle" >40</text>
<text x="487.11" y="401.6" font-size="11.8" text-anchor="middle" >45</text>
<text x="522.28" y="401.6" font-size="11.8" text-anchor="middle" >50</text>
<text x="557.45" y="401.6" font-size="11.8" text-anchor="middle" >55</text>
<text x="592.63" y="401.6" font-size="11.8" text-anchor="middle" >60</text>
<text x="627.8" y="401.6" font-size="11.8" text-anchor="middle" >65</text>
<text x="362" y="394.1" font-size="11.8" text-anchor="end" >2.5</text>
<text x="362" y="358.7" font-size="11.8" text-anchor="end" >3</text>
<text x="362" y="323.3" font-size="11.8" text-anchor="end" >3.5</text>
<text x="362" y="287.9" font-size="11.8" text-anchor="end" >4</text>
<text x="362" y="252.5" font-size="11.8" text-anchor="end" >4.5</text>
<text x="362" y="217.1" font-size="11.8" text-anchor="end" >5</text>
<text x="501.4" y="415.1" font-size="11.3" text-anchor="middle" >Launch Angle (Deg)</text>
<text transform="translate(338.3,300) rotate(-90)" font-size="11.45" text-anchor="middle">Distance Traveled (m)</text>
<text x="393" y="206.6" font-size="11.3" text-anchor="start"  textLength="108.4" lengthAdjust="spacingAndGlyphs">Influence of friction, v</text>
<text x="502.4" y="212.2" font-size="9" text-anchor="start" >0</text>
<text x="509.4" y="206.6" font-size="11.3" text-anchor="start"  textLength="8.4" lengthAdjust="spacingAndGlyphs">=</text>
<text x="519.2" y="206.6" font-size="11.3" text-anchor="start"  textLength="41" lengthAdjust="spacingAndGlyphs">6 m/s, h</text>
<text x="560.2" y="212.2" font-size="9" text-anchor="start" >0</text>
<text x="567.2" y="206.6" font-size="11.3" text-anchor="start"  textLength="8.4" lengthAdjust="spacingAndGlyphs">=</text>
<text x="576" y="206.6" font-size="11.3" text-anchor="start"  textLength="21.8" lengthAdjust="spacingAndGlyphs">0 m</text>
<rect x="574.1" y="277.2" width="51.8" height="50.1" fill="#fff" stroke="#555" stroke-width="1"/>
<line x1="578" y1="283" x2="599" y2="283" stroke="#333" stroke-width="1.6" />
<text x="603.9" y="285.8" font-size="7.8" text-anchor="start" >0.00</text>
<line x1="578" y1="292.5" x2="599" y2="292.5" stroke="#777" stroke-width="1.2" />
<text x="603.9" y="295.3" font-size="7.8" text-anchor="start" >0.29</text>
<line x1="578" y1="302" x2="599" y2="302" stroke="#ccc" stroke-width="1.2" />
<text x="603.9" y="304.8" font-size="7.8" text-anchor="start" >1.00</text>
<line x1="578" y1="311.6" x2="599" y2="311.6" stroke="#333" stroke-width="1.6" stroke-dasharray="6.5 7"/>
<text x="603.9" y="314.4" font-size="7.8" text-anchor="start" >3.86</text>
<line x1="578" y1="321.1" x2="599" y2="321.1" stroke="#999" stroke-width="1.5" stroke-dasharray="6.5 7"/>
<text x="603.9" y="323.9" font-size="7.8" text-anchor="start" >15.71</text>
</svg></body></html>
